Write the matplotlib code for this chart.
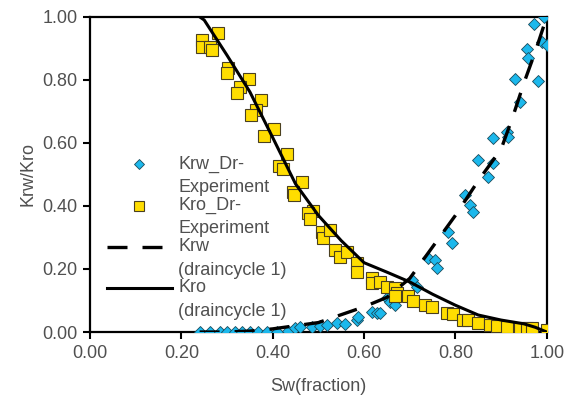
import numpy as np
import matplotlib
matplotlib.use("Agg")
import matplotlib.pyplot as plt
from matplotlib.legend_handler import HandlerLine2D

plt.rcParams['font.family'] = ['Liberation Sans', 'DejaVu Sans']

# experimental Krw points (drainage)
sw_krw_exp = [0.241, 0.263, 0.284, 0.300, 0.317, 0.333, 0.350, 0.368, 0.387, 0.410,
              0.433, 0.449, 0.460, 0.486, 0.503, 0.519, 0.540, 0.558, 0.584, 0.586,
              0.617, 0.628, 0.635, 0.650, 0.656, 0.667, 0.705, 0.715, 0.740, 0.755,
              0.759, 0.783, 0.792, 0.821, 0.832, 0.838, 0.849, 0.871, 0.882, 0.882,
              0.912, 0.915, 0.930, 0.941, 0.956, 0.958, 0.972, 0.980, 0.989, 0.993, 1.000]
krw_exp = [0.000, 0.000, 0.000, 0.000, 0.000, 0.000, 0.000, 0.000, 0.000, 0.000,
           0.003, 0.013, 0.015, 0.016, 0.019, 0.022, 0.029, 0.025, 0.038, 0.048,
           0.063, 0.060, 0.060, 0.108, 0.095, 0.086, 0.165, 0.143, 0.235, 0.229,
           0.203, 0.317, 0.282, 0.435, 0.403, 0.381, 0.546, 0.492, 0.537, 0.616,
           0.635, 0.619, 0.803, 0.730, 0.898, 0.870, 0.978, 0.797, 0.921, 1.000, 0.911]

# experimental Kro points (drainage)
sw_kro_exp = [0.245, 0.245, 0.263, 0.267, 0.280, 0.302, 0.300, 0.348, 0.328, 0.322,
              0.374, 0.363, 0.352, 0.403, 0.381, 0.431, 0.414, 0.422, 0.464, 0.444,
              0.446, 0.488, 0.477, 0.481, 0.508, 0.510, 0.525, 0.536, 0.547, 0.562,
              0.584, 0.584, 0.617, 0.617, 0.635, 0.650, 0.667, 0.672, 0.667, 0.696,
              0.707, 0.733, 0.748, 0.781, 0.794, 0.816, 0.827, 0.849, 0.875, 0.891,
              0.912, 0.941, 0.956, 0.967, 1.000]
kro_exp = [0.927, 0.905, 0.905, 0.895, 0.949, 0.838, 0.822, 0.803, 0.778, 0.759,
           0.737, 0.705, 0.689, 0.644, 0.622, 0.565, 0.527, 0.517, 0.476, 0.444,
           0.435, 0.384, 0.378, 0.359, 0.317, 0.298, 0.324, 0.260, 0.238, 0.254,
           0.219, 0.190, 0.171, 0.156, 0.159, 0.143, 0.140, 0.124, 0.114, 0.114,
           0.098, 0.086, 0.079, 0.060, 0.057, 0.038, 0.038, 0.029, 0.022, 0.019,
           0.016, 0.013, 0.013, 0.013, 0.006]

# model curves (draincycle 1)
sw_model = [0.24, 0.25, 0.30, 0.35, 0.40, 0.45, 0.50, 0.55, 0.60, 0.65, 0.70,
            0.75, 0.80, 0.85, 0.90, 0.925, 0.95, 0.975, 1.00]
krw_model = [0.0, 0.0, 0.0, 0.003, 0.010, 0.020, 0.030, 0.055, 0.080, 0.110, 0.170,
             0.270, 0.370, 0.480, 0.580, 0.680, 0.790, 0.890, 1.000]
kro_model = [1.0, 0.99, 0.878, 0.762, 0.617, 0.47, 0.37, 0.29, 0.22, 0.19, 0.159,
             0.12, 0.085, 0.054, 0.038, 0.032, 0.026, 0.015, 0.0]


# legend handle drawn level with the first line of a two-line label
class FirstLineHandler(HandlerLine2D):
    def create_artists(self, legend, orig_handle, xdescent, ydescent,
                       width, height, fontsize, trans):
        return super().create_artists(legend, orig_handle, xdescent,
                                      ydescent - 1.3 * fontsize, width, height,
                                      fontsize, trans)


fig = plt.figure(figsize=(5.66, 4.01), dpi=100)
ax = fig.add_axes([0.159, 0.172, 0.807, 0.786])

h1, = ax.plot(sw_krw_exp, krw_exp, linestyle='none', marker='D', markersize=6.5,
              markerfacecolor='#1CB8EC', markeredgecolor='#1a4a5a', markeredgewidth=0.6,
              label='Krw_Dr-\nExperiment', zorder=3)
h2, = ax.plot(sw_kro_exp, kro_exp, linestyle='none', marker='s', markersize=8.5,
              markerfacecolor='#FFDD00', markeredgecolor='#4a4020', markeredgewidth=0.8,
              label='Kro_Dr-\nExperiment', zorder=3)
h3, = ax.plot(sw_model, krw_model, color='black', linewidth=2.4, dashes=(6, 4.5),
              label='Krw\n(draincycle 1)', zorder=4)
h4, = ax.plot(sw_model, kro_model, color='black', linewidth=2.2,
              label='Kro\n(draincycle 1)', zorder=4)

ax.set_xlim(0, 1)
ax.set_ylim(0, 1)
ticks = np.arange(0, 1.01, 0.2)
ax.set_xticks(ticks)
ax.set_yticks(ticks)
ax.set_xticklabels(['%.2f' % v for v in ticks])
ax.set_yticklabels(['%.2f' % v for v in ticks])
ax.tick_params(direction='out', length=5, width=1.5, labelsize=13,
               colors='black', labelcolor='#505050', pad=4)
for s in ax.spines.values():
    s.set_linewidth(1.6)
    s.set_color('black')

ax.set_xlabel('Sw(fraction)', fontsize=13, color='#505050', labelpad=12)
ax.set_ylabel('Krw/Kro', fontsize=13, color='#505050', labelpad=4)

hm = {h: FirstLineHandler() for h in (h1, h2, h3, h4)}
leg = ax.legend(handles=[h1, h2, h3, h4], handler_map=hm,
                loc='upper left', bbox_to_anchor=(0.013, 0.595), frameon=False,
                fontsize=13, handlelength=3.6, handletextpad=0.35,
                labelspacing=0.04, borderaxespad=0.2, markerscale=0.8)
for t in leg.get_texts():
    t.set_color('#505050')
    t.set_linespacing(1.5)

fig.savefig('out.png', dpi=100)
